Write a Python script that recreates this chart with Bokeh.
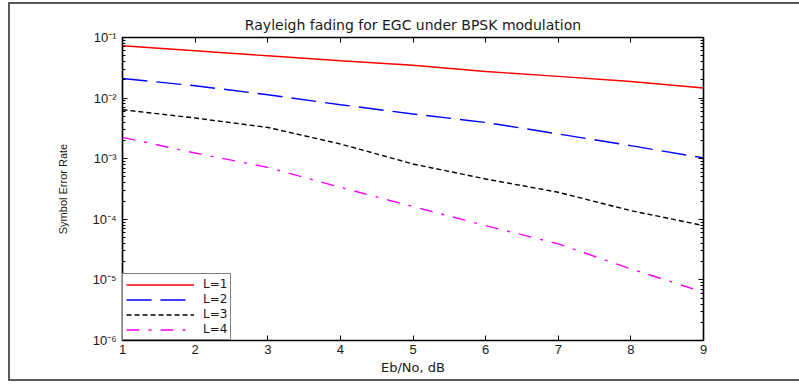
from bokeh.plotting import figure
from bokeh.models import (FixedTicker, LinearAxis, LogAxis, CustomJSTickFormatter,
                          Legend, LegendItem)
from bokeh.embed import file_html
from bokeh.resources import INLINE

# ---- data ----
ebno_db = [1, 2, 3, 4, 5, 6, 7, 8, 9]
ser_L1 = [0.0730, 0.0604, 0.0499, 0.0413, 0.0348, 0.0275, 0.0228, 0.0188, 0.01465]
ser_L2 = [0.0211, 0.0160, 0.01136, 0.00778, 0.00546, 0.00397, 0.00256, 0.00164, 0.00103]
ser_L3 = [0.00643, 0.00469, 0.00328, 0.00175, 0.000818, 0.000463, 0.000279, 0.000139, 0.0000787]
ser_L4 = [0.00225, 0.00124, 0.000719, 0.000337, 0.000162, 0.0000787, 0.0000393, 0.0000152, 0.00000625]
series_labels = ["L=1", "L=2", "L=3", "L=4"]

x_ticks = [1, 2, 3, 4, 5, 6, 7, 8, 9]
y_ticks = [1e-6, 1e-5, 1e-4, 1e-3, 1e-2, 1e-1]
y_tick_labels = ["10\u207b\u2076", "10\u207b\u2075", "10\u207b\u2074",
                 "10\u207b\u00b3", "10\u207b\u00b2", "10\u207b\u00b9"]

title_text = "Rayleigh fading for EGC under BPSK modulation"
x_label = "Eb/No, dB"
y_label = "Symbol Error Rate"

# ---- styling ----
TXT = "#1a1a1a"
FONT = "Liberation Sans"
WIDE = "DejaVu Sans"

p = figure(width=791, height=379, x_range=(1, 9), y_range=(1e-6, 1e-1),
           y_axis_type="log", output_backend="svg", toolbar_location=None,
           min_border_left=112, min_border_right=98, min_border_top=33,
           min_border_bottom=43, title=title_text,
           styles={"margin-left": "8px", "margin-top": "2px",
                   "border-left": "2px solid #5a5a5a",
                   "border-top": "2px solid #5a5a5a",
                   "border-bottom": "2px solid #5a5a5a",
                   "border-right": "none"})

p.title.align = "center"
p.title.text_font = WIDE
p.title.text_font_size = "14px"
p.title.text_font_style = "normal"
p.title.text_color = TXT

p.outline_line_color = "black"
p.outline_line_width = 1.5
p.xgrid.visible = False
p.ygrid.visible = False

minor = [m * t for t in y_ticks[:-1] for m in range(2, 10)]
xt = FixedTicker(ticks=x_ticks, minor_ticks=[])
yt = FixedTicker(ticks=y_ticks, minor_ticks=minor)
yfmt = CustomJSTickFormatter(args=dict(yvals=y_ticks, ylabs=y_tick_labels), code="""
const i = yvals.findIndex(t => Math.abs(Math.log10(t) - Math.log10(tick)) < 1e-6);
return i >= 0 ? ylabs[i] : '';
""")
blank = CustomJSTickFormatter(code="return '';")

def style_axis(ax, show_labels):
    ax.axis_line_color = "black"
    ax.axis_line_width = 1.2
    ax.major_tick_in = 5
    ax.major_tick_out = 0
    ax.minor_tick_in = 3
    ax.minor_tick_out = 0
    ax.major_tick_line_color = "black"
    ax.minor_tick_line_color = "black"
    ax.major_label_text_font = FONT
    ax.major_label_text_font_size = "13px"
    ax.major_label_text_color = TXT
    if not show_labels:
        ax.formatter = blank
        ax.major_label_standoff = 0

xa = p.xaxis[0]
xa.ticker = xt
style_axis(xa, True)
xa.major_label_standoff = 4
xa.axis_label = x_label
xa.axis_label_text_font = WIDE
xa.axis_label_text_font_size = "13px"
xa.axis_label_text_font_style = "normal"
xa.axis_label_text_color = TXT
xa.axis_label_standoff = 3

ya = p.yaxis[0]
ya.ticker = yt
ya.formatter = yfmt
style_axis(ya, True)
ya.major_label_standoff = 6
ya.axis_label = y_label
ya.axis_label_text_font = FONT
ya.axis_label_text_font_size = "11px"
ya.axis_label_text_font_style = "normal"
ya.axis_label_text_color = TXT
ya.axis_label_standoff = 20

top = LinearAxis(ticker=xt)
style_axis(top, False)
p.add_layout(top, "above")
right = LogAxis(ticker=yt)
style_axis(right, False)
p.add_layout(right, "right")

r1 = p.line(ebno_db, ser_L1, line_color="#ff0000", line_width=1.4)
r2 = p.line(ebno_db, ser_L2, line_color="#0000ff", line_width=1.4, line_dash="25 9")
r3 = p.line(ebno_db, ser_L3, line_color="black", line_width=1.4, line_dash="5 3")
r4 = p.line(ebno_db, ser_L4, line_color="#ff00ff", line_width=1.4, line_dash="13 9 3 9")

legend = Legend(items=[LegendItem(label=lab, renderers=[r])
                       for lab, r in zip(series_labels, [r1, r2, r3, r4])],
                location="bottom_left", margin=0, padding=3, spacing=1,
                label_height=13, glyph_height=13, glyph_width=68,
                label_standoff=9, border_line_color="black",
                border_line_width=1.5, label_text_font=WIDE,
                label_text_font_size="12px", label_text_color=TXT,
                background_fill_alpha=1)
p.add_layout(legend)

open("out.html", "w").write(file_html(p, INLINE))
